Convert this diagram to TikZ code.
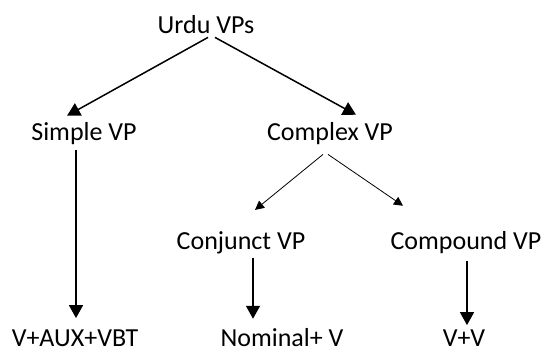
\documentclass[tikz,border=0pt]{standalone}
\usepackage{fontspec}
\setmainfont{Carlito}
\usetikzlibrary{arrows.meta}

\begin{document}
\begin{tikzpicture}[x=1bp,y=-1bp,
  lbl/.style={anchor=base, inner sep=4bp, font=\fontsize{26bp}{30bp}\selectfont},
  leaf/.style={lbl, inner sep=1bp},
  big/.style={line width=1.5bp, -{Triangle[length=13bp,width=14bp]}},
  small/.style={line width=0.8bp, -{Triangle[length=9bp,width=9bp]}}]
\useasboundingbox (0,0) rectangle (547,353);
\node[lbl] (urdu) at (206,33) {Urdu VPs};
\node[lbl] (simple) at (84,140) {Simple VP};
\node[lbl] (complex) at (330,140) {Complex VP};
\node[lbl] (conjunct) at (241,249) {Conjunct VP};
\node[lbl] (compound) at (466,249) {Compound VP};
\node[leaf] (vaux) at (75,346) {V+AUX+VBT};
\node[leaf] (nominal) at (282,346) {Nominal+ V};
\node[leaf] (vv) at (464,346) {V+V};
% first level
\draw[big] ([xshift=2bp]urdu.south) -- ([xshift=-17bp,yshift=2bp]simple.north);
\draw[big] ([xshift=9bp]urdu.south) -- ([xshift=26bp,yshift=3bp]complex.north);
% second level
\draw[small] ([xshift=-7bp,yshift=-6bp]complex.south) -- ([xshift=14bp,yshift=17bp]conjunct.north);
\draw[small] ([xshift=-2bp,yshift=-6bp]complex.south) -- ([xshift=-63bp,yshift=21bp]compound.north);
% vertical ones
\draw[big] ([xshift=-8bp,yshift=-2bp]simple.south) -- ([xshift=-8bp,yshift=10bp]simple.south |- vaux.north);
\draw[big] ([xshift=12bp]conjunct.south) -- ([xshift=12bp,yshift=8bp]conjunct.south |- nominal.north);
\draw[big] ([xshift=1bp,yshift=-4bp]compound.south) -- ([xshift=1bp,yshift=3bp]compound.south |- vv.north);
\end{tikzpicture}
\end{document}
